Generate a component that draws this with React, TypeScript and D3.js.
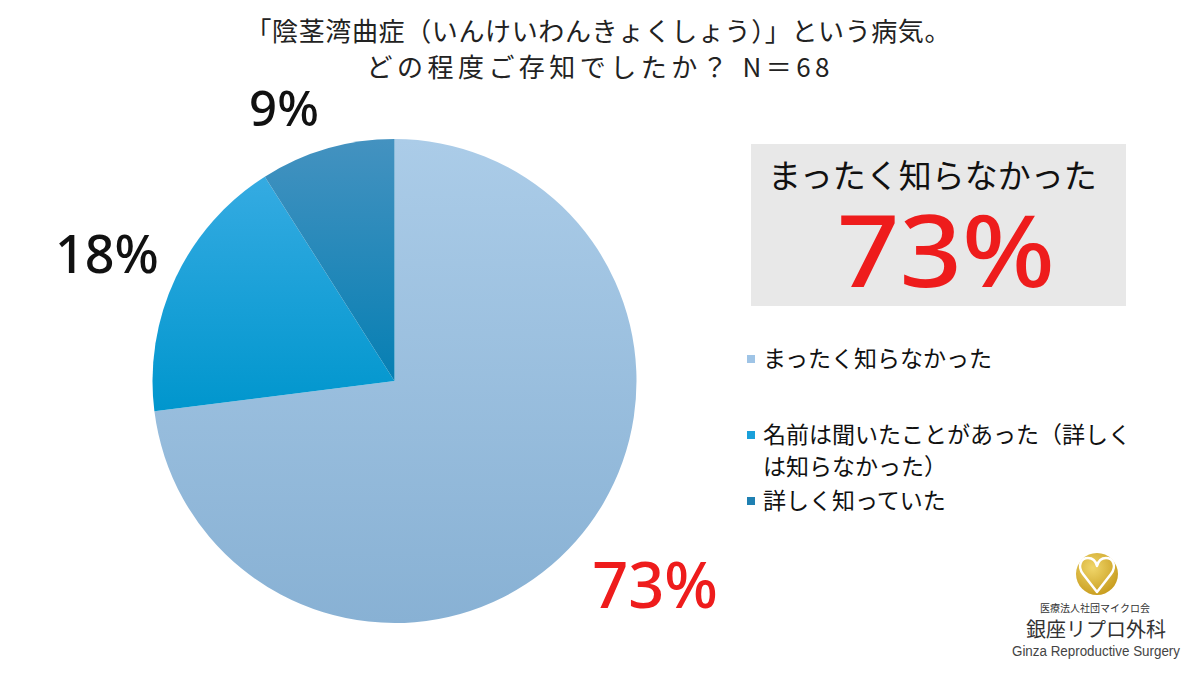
import { useEffect, useRef } from "react";
import * as d3 from "d3";

// データ
const categories = [
  "まったく知らなかった",
  "名前は聞いたことがあった（詳しくは知らなかった）",
  "詳しく知っていた",
];
const values = [73, 18, 9];
const pctLabels = ["73%", "18%", "9%"];
const legendLines = [
  ["まったく知らなかった"],
  ["名前は聞いたことがあった（詳しく", "は知らなかった）"],
  ["詳しく知っていた"],
];
const titleLines = [
  "「陰茎湾曲症（いんけいわんきょくしょう）」という病気。",
  "どの程度ご存知でしたか？ N＝68",
];

const W = 1200;
const H = 675;
const FONT = "'Noto Sans CJK JP', 'Noto Sans', sans-serif";
const NUM_FONT = "'Noto Sans', 'Noto Sans CJK JP', sans-serif";

// スライスのグラデーション（上→下）
const sliceColors = [
  ["#abcce8", "#88b1d4"],
  ["#35abe2", "#0096cd"],
  ["#4492c0", "#067fb3"],
];
const swatchColors = ["#9fc4e6", "#1aa0da", "#1f80b2"];

const App = () => {
  const svgRef = useRef<SVGSVGElement | null>(null);

  useEffect(() => {
    if (!svgRef.current) return;
    const svg = d3.select(svgRef.current);
    svg.selectAll("*").remove();

    svg.append("rect").attr("width", W).attr("height", H).attr("fill", "#fff");

    const defs = svg.append("defs");
    sliceColors.forEach((c, i) => {
      const g = defs
        .append("linearGradient")
        .attr("id", `slice${i}`)
        .attr("x1", 0)
        .attr("y1", 0)
        .attr("x2", 0)
        .attr("y2", 1);
      g.append("stop").attr("offset", "0%").attr("stop-color", c[0]);
      g.append("stop").attr("offset", "100%").attr("stop-color", c[1]);
    });
    const gold = defs
      .append("radialGradient")
      .attr("id", "gold")
      .attr("cx", "40%")
      .attr("cy", "35%")
      .attr("r", "70%");
    gold.append("stop").attr("offset", "0%").attr("stop-color", "#f0d66a");
    gold.append("stop").attr("offset", "100%").attr("stop-color", "#c79b1c");

    // タイトル
    const titleWidths = [705, 463];
    svg
      .append("g")
      .selectAll("text")
      .data(titleLines)
      .enter()
      .append("text")
      .attr("x", 598)
      .attr("y", (_, i) => 41 + i * 36)
      .attr("text-anchor", "middle")
      .attr("font-family", FONT)
      .attr("font-size", 26)
      .attr("fill", "#222")
      .attr("textLength", (_, i) => titleWidths[i])
      .attr("lengthAdjust", "spacing")
      .text((d) => d);

    // 円グラフ
    const cx = 394.5;
    const cy = 381;
    const r = 242;
    const pie = d3
      .pie<number>()
      .sort(null)
      .value((d) => d);
    const arcs = pie(values);
    const arc = d3.arc<d3.PieArcDatum<number>>().innerRadius(0).outerRadius(r);

    const pg = svg.append("g").attr("transform", `translate(${cx},${cy})`);
    pg.selectAll("path")
      .data(arcs)
      .enter()
      .append("path")
      .attr("d", arc)
      .attr("fill", (_, i) => `url(#slice${i})`);

    // ラベル
    const labelPos = [
      { x: 655, y: 608, size: 63, color: "#ee1c1c" },
      { x: 107, y: 273, size: 52, color: "#111" },
      { x: 284, y: 126, size: 49, color: "#111" },
    ];
    labelPos.forEach((p, i) => {
      svg
        .append("text")
        .attr("x", p.x)
        .attr("y", p.y)
        .attr("text-anchor", "middle")
        .attr("font-family", NUM_FONT)
        .attr("font-weight", 500)
        .attr("font-size", p.size)
        .attr("fill", p.color)
        .text(pctLabels[i]);
    });

    // ハイライトボックス
    svg
      .append("rect")
      .attr("x", 751)
      .attr("y", 144)
      .attr("width", 375)
      .attr("height", 162)
      .attr("fill", "#e8e8e8");
    svg
      .append("text")
      .attr("x", 768)
      .attr("y", 188)
      .attr("font-family", FONT)
      .attr("font-size", 33)
      .attr("fill", "#111")
      .text(categories[0]);
    svg
      .append("text")
      .attr("x", 946)
      .attr("y", 287)
      .attr("text-anchor", "middle")
      .attr("font-family", NUM_FONT)
      .attr("font-weight", 500)
      .attr("font-size", 100)
      .attr("fill", "#ee1c1c")
      .attr("textLength", 218)
      .attr("lengthAdjust", "spacingAndGlyphs")
      .text(pctLabels[0]);

    // 凡例
    const legendY = [367, 443, 509];
    legendLines.forEach((lines, i) => {
      const g = svg.append("g");
      g.append("rect")
        .attr("x", 747)
        .attr("y", legendY[i] - 12)
        .attr("width", 8)
        .attr("height", 8)
        .attr("fill", swatchColors[i]);
      lines.forEach((t, j) => {
        g.append("text")
          .attr("x", 763)
          .attr("y", legendY[i] + j * 32)
          .attr("font-family", FONT)
          .attr("font-size", 23)
          .attr("fill", "#111")
          .text(t);
      });
    });

    // ロゴ
    const logo = svg.append("g");
    logo
      .append("circle")
      .attr("cx", 1097)
      .attr("cy", 574)
      .attr("r", 21)
      .attr("fill", "url(#gold)");
    logo
      .append("path")
      .attr(
        "d",
        "M1097,592 L1083,574 C1077,566 1081,558 1088,558 C1093,558 1096,562 1097,566 C1098,562 1101,558 1106,558 C1113,558 1117,566 1111,574 Z"
      )
      .attr("fill", "none")
      .attr("stroke", "#fff")
      .attr("stroke-width", 2.5)
      .attr("stroke-linejoin", "round");
    logo
      .append("text")
      .attr("x", 1095)
      .attr("y", 612)
      .attr("text-anchor", "middle")
      .attr("font-family", FONT)
      .attr("font-size", 10)
      .attr("fill", "#333")
      .text("医療法人社団マイクロ会");
    logo
      .append("text")
      .attr("x", 1096)
      .attr("y", 637)
      .attr("text-anchor", "middle")
      .attr("font-family", FONT)
      .attr("font-size", 20)
      .attr("fill", "#333")
      .text("銀座リプロ外科");
    logo
      .append("text")
      .attr("x", 1096)
      .attr("y", 656)
      .attr("text-anchor", "middle")
      .attr("font-family", "'Liberation Sans Narrow', 'Liberation Sans', sans-serif")
      .attr("font-size", 14)
      .attr("fill", "#444")
      .attr("textLength", 168)
      .attr("lengthAdjust", "spacingAndGlyphs")
      .text("Ginza Reproductive Surgery");
  }, []);

  return (
    <div style={{ position: "fixed", left: 0, top: 0, width: W, height: H }}>
      <svg ref={svgRef} width={W} height={H}></svg>
    </div>
  );
};

export default App;
